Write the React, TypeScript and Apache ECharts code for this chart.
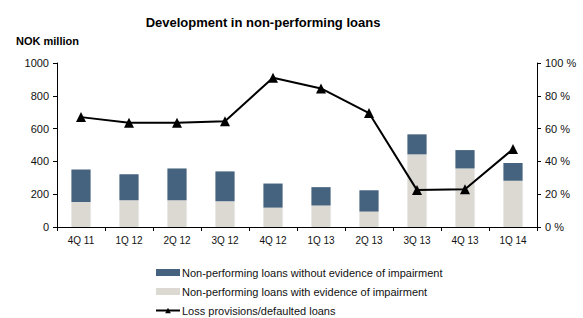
import React, { useEffect, useRef } from "react";
import * as echarts from "echarts";

const categories = ["4Q 11", "1Q 12", "2Q 12", "3Q 12", "4Q 12", "1Q 13", "2Q 13", "3Q 13", "4Q 13", "1Q 14"];
const withEvidence = [152, 163, 163, 157, 118, 131, 94, 443, 357, 282];
const withoutEvidence = [198, 159, 194, 182, 147, 112, 130, 122, 112, 108];
const lossProvisions = [67, 63.5, 63.5, 64.5, 91, 84.5, 69.5, 22.5, 23, 47.5];
const leftTicks = { min: 0, max: 1000, interval: 200 };
const rightTicks = { min: 0, max: 100, interval: 20 };

const FONT = "Liberation Sans, Arial, sans-serif";

export default function App() {
  const ref = useRef<HTMLDivElement>(null);
  useEffect(() => {
    document.body.style.margin = "0";
    const chart = echarts.init(ref.current!, null, { renderer: "svg" });
    chart.setOption({
      animation: false,
      textStyle: { fontFamily: FONT, color: "#111" },
      title: [
        {
          text: "Development in non-performing loans",
          left: 258,
          textAlign: "center",
          top: 11,
          textStyle: { fontSize: 13, fontWeight: "bold", color: "#000", fontFamily: FONT },
        },
        {
          text: "NOK million",
          left: 11,
          top: 30,
          textStyle: { fontSize: 11, fontWeight: "bold", color: "#000", fontFamily: FONT },
        },
      ],
      legend: {
        orient: "vertical",
        left: 155,
        top: 267,
        height: 60,
        padding: 0,
        itemGap: 8,
        itemWidth: 24,
        itemHeight: 7,
        textStyle: { fontSize: 11, color: "#111", fontFamily: FONT, padding: [0, 0, 0, -3] },
        data: [
          { name: "Non-performing loans without evidence of impairment", icon: "rect" },
          { name: "Non-performing loans with evidence of impairment", icon: "rect" },
          { name: "Loss provisions/defaulted loans" },
        ],
      },
      grid: { left: 57, right: 46, top: 63, bottom: 91 },
      xAxis: {
        type: "category",
        data: categories,
        axisLine: { lineStyle: { color: "#000", width: 1 } },
        axisTick: { show: true, length: 4, lineStyle: { color: "#000" } },
        axisLabel: { fontSize: 10, color: "#111", margin: 8, fontFamily: FONT },
      },
      yAxis: [
        {
          type: "value",
          ...leftTicks,
          splitLine: { show: false },
          axisLine: { show: true, lineStyle: { color: "#000" } },
          axisTick: { show: true, length: 4, lineStyle: { color: "#000" } },
          axisLabel: { fontSize: 11, color: "#111", margin: 8, fontFamily: FONT, formatter: (v: number) => String(v) },
        },
        {
          type: "value",
          ...rightTicks,
          splitLine: { show: false },
          axisLine: { show: true, lineStyle: { color: "#000" } },
          axisTick: { show: true, length: 4, lineStyle: { color: "#000" } },
          axisLabel: { fontSize: 11, color: "#111", margin: 8, formatter: "{value} %", fontFamily: FONT },
        },
      ],
      series: [
        {
          name: "Non-performing loans with evidence of impairment",
          type: "bar",
          stack: "npl",
          data: withEvidence,
          barWidth: "40%",
          itemStyle: { color: "#dcd9d3" },
        },
        {
          name: "Non-performing loans without evidence of impairment",
          type: "bar",
          stack: "npl",
          data: withoutEvidence,
          barWidth: "40%",
          itemStyle: { color: "#45637e" },
        },
        {
          name: "Loss provisions/defaulted loans",
          type: "line",
          yAxisIndex: 1,
          data: lossProvisions,
          symbol: "triangle",
          symbolSize: 10,
          lineStyle: { color: "#000", width: 2 },
          itemStyle: { color: "#000" },
        },
      ],
    });
    return () => chart.dispose();
  }, []);
  return <div ref={ref} style={{ width: 583, height: 318 }} />;
}
